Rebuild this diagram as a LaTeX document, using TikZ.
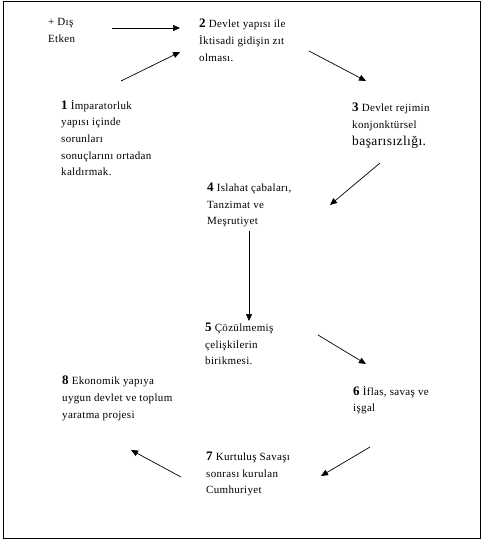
\documentclass[tikz,border=0pt]{standalone}
\usepackage{fontspec}
\setmainfont{Liberation Serif}[LetterSpace=3]
\usepackage{tikz}
\usetikzlibrary{arrows.meta,calc}
\tikzset{
  stage/.style ={anchor=north west, align=left, inner sep=0pt,
                 font=\fontsize{11}{16.6}\selectfont},
  fl/.style    ={draw=black, line width=0.7pt, -{Triangle[length=7pt,width=6pt]}},
  frame/.style ={draw=black, line width=1pt},
}
\newcommand{\num}[1]{{\fontsize{13}{16.6}\selectfont\bfseries #1}}

\begin{document}
\begin{tikzpicture}[x=1pt,y=-1pt]
  \useasboundingbox (0,0) rectangle (482,540);
  \draw[frame] (3,2) rectangle (480,538);
  \node[stage] (ext) at (48,18)  {+ Dış\\Etken};
  \node[stage] (n2)  at (199,19) {\num{2} Devlet yapısı ile\\İktisadi gidişin zıt\\olması.};
  \node[stage] (n1)  at (61,100)  {\num{1} İmparatorluk\\yapısı içinde\\sorunları\\sonuçlarını ortadan\\kaldırmak.};
  \node[stage] (n3)  at (352,103) {\num{3} Devlet rejimin\\konjonktürsel\\{\fontsize{13.5}{16.6}\selectfont başarısızlığı.}};
  \node[stage] (n4)  at (207,183) {\num{4} Islahat çabaları,\\Tanzimat ve\\Meşrutiyet};
  \node[stage] (n5)  at (205,323) {\num{5} Çözülmemiş\\çelişkilerin\\birikmesi.};
  \node[stage] (n6)  at (353,386) {\num{6} İflas, savaş ve\\işgal};
  \node[stage] (n7)  at (206,452) {\num{7} Kurtuluş Savaşı\\sonrası kurulan\\Cumhuriyet};
  \node[stage] (n8)  at (62,376)  {\num{8} Ekonomik yapıya\\uygun devlet ve toplum\\yaratma projesi};
  % the cycle, offsets taken from the north west corners
  \draw[fl] ($(ext.north west)+(64,10)$) -- ($(n2.north west)+(-19,9)$);
  \draw[fl] ($(n1.north west)+(60,-19)$) -- ($(n2.north west)+(-19,33)$);
  \draw[fl] ($(n2.north west)+(110,32)$) -- ($(n3.north west)+(14,-22)$);
  \draw[fl] ($(n3.north west)+(28,60)$)  -- ($(n4.north west)+(123,22)$);
  \draw[fl] ($(n4.north west)+(42,48)$)  -- ($(n5.north west)+(44,-2)$);
  \draw[fl] ($(n5.north west)+(113,12)$) -- ($(n6.north west)+(13,-22)$);
  \draw[fl] ($(n6.north west)+(17,61)$)  -- ($(n7.north west)+(115,24)$);
  \draw[fl] ($(n7.north west)+(-25,25)$) -- ($(n8.north west)+(69,74)$);
\end{tikzpicture}
\end{document}
